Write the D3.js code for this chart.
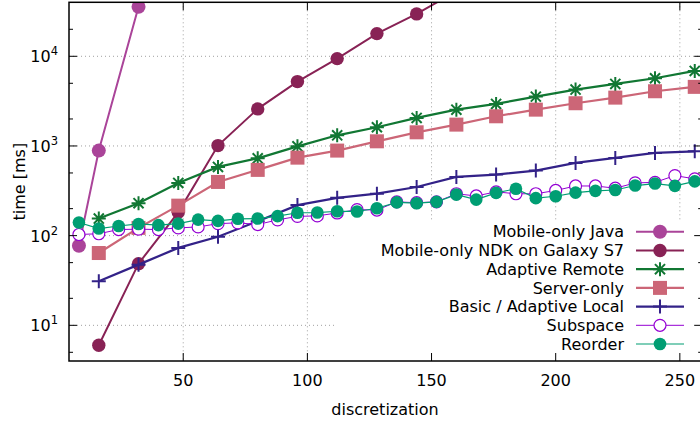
<!DOCTYPE html>
<html>
<head>
<meta charset="utf-8">
<script src="https://cdn.jsdelivr.net/npm/d3@7/dist/d3.min.js"></script>
<style>
  body { margin: 0; background: #fff; }
  text { font-family: "DejaVu Sans", sans-serif; fill: #000; }
</style>
</head>
<body>
<div id="chart"></div>
<script>
// --- data ---
var seriesNames = [
  "Mobile-only Java",
  "Mobile-only NDK on Galaxy S7",
  "Adaptive Remote",
  "Server-only",
  "Basic / Adaptive Local",
  "Subspace",
  "Reorder"
];

var javaX = [8, 16, 32];
var javaY = [77, 888, 35600];

var ndkX = [16, 32, 48, 64, 80, 96, 112, 128, 144, 160];
var ndkY = [6, 48.7, 182, 1010, 2590, 5220, 9420, 17900, 29700, 53000];

var step16X = [16, 32, 48, 64, 80, 96, 112, 128, 144, 160, 176, 192, 208, 224, 240, 256];
var remoteY = [155, 230, 387, 584, 728, 990, 1315, 1616, 2055, 2541, 2945, 3550, 4255, 4920, 5690, 6870];
var serverY = [64, 122, 216, 397, 541, 741, 888, 1127, 1420, 1730, 2143, 2541, 2995, 3460, 4075, 4560];
var basicY = [31, 47.5, 73, 97, 145, 219, 264, 294, 349, 452, 480, 531, 647, 736, 837, 871];

var step8X = [8, 16, 24, 32, 40, 48, 56, 64, 72, 80, 88, 96, 104, 112, 120, 128,
  136, 144, 152, 160, 168, 176, 184, 192, 200, 208, 216, 224, 232, 240, 248, 256];
var subspaceY = [103, 105, 117, 118, 117, 122, 125, 136, 139, 133, 150, 164, 166, 179, 195, 193,
  238, 233, 238, 293, 277, 308, 293, 293, 319, 358, 358, 338, 387, 393, 467, 430];
var reorderY = [140, 120, 128, 135, 131, 136, 151, 146, 154, 155, 165, 180, 181, 187, 186, 202,
  235, 230, 238, 287, 252, 300, 333, 262, 275, 302, 316, 323, 362, 381, 359, 403];

var xTicks = [50, 100, 150, 200, 250];
var yTicks = [10, 100, 1000, 10000];
var yMinor = [5, 20, 50, 200, 500, 2000, 5000, 20000];

// --- layout ---
var W = 700, H = 423;
var margin = { top: 2.3, right: -2.2, bottom: 62, left: 69 };
var width = W - margin.left - margin.right,
  height = H - margin.top - margin.bottom;

var x = d3.scaleLinear().domain([4, 259]).range([0, width]);
var y = d3.scaleLog().domain([4, 40000]).range([height, 0]);

function zip(xa, ya) {
  return xa.map(function (d, i) { return { x: d, y: ya[i] }; });
}

var series = [
  { name: seriesNames[0], data: zip(javaX, javaY), color: "#aa4499", lw: 2, marker: "dot", r: 7 },
  { name: seriesNames[1], data: zip(ndkX, ndkY), color: "#882255", lw: 2, marker: "dot", r: 6.7 },
  { name: seriesNames[2], data: zip(step16X, remoteY), color: "#117733", lw: 2.2, marker: "star", r: 7 },
  { name: seriesNames[3], data: zip(step16X, serverY), color: "#cc6677", lw: 2.2, marker: "square", r: 7 },
  { name: seriesNames[4], data: zip(step16X, basicY), color: "#332288", lw: 2.2, marker: "plus", r: 7 },
  { name: seriesNames[5], data: zip(step8X, subspaceY), color: "#9400d3", lw: 1, marker: "ring", r: 6 },
  { name: seriesNames[6], data: zip(step8X, reorderY), color: "#009e73", lw: 1.2, marker: "dot", r: 6.3 }
];

var svg = d3.select("#chart").append("svg")
  .attr("width", W).attr("height", H)
  .append("g")
  .attr("transform", "translate(" + margin.left + "," + margin.top + ")");

svg.append("clipPath").attr("id", "clip")
  .append("rect").attr("width", width).attr("height", height);

// grid
var grid = svg.append("g").attr("class", "grid");
grid.selectAll("line.gx").data(xTicks).enter().append("line")
  .attr("x1", function (d) { return x(d); }).attr("x2", function (d) { return x(d); })
  .attr("y1", 0).attr("y2", height);
grid.selectAll("line.gy").data(yTicks).enter().append("line")
  .attr("y1", function (d) { return y(d); }).attr("y2", function (d) { return y(d); })
  .attr("x1", 0).attr("x2", width);
grid.selectAll("line")
  .attr("stroke", "#a0a0a0").attr("stroke-width", 1).attr("stroke-dasharray", "1,3");

// marker drawing
function drawMarker(g, s) {
  var r = s.r;
  if (s.marker === "dot") {
    g.append("circle").attr("r", r).attr("fill", s.color);
  } else if (s.marker === "ring") {
    g.append("circle").attr("r", r).attr("fill", "#fff").attr("stroke", s.color).attr("stroke-width", 1.2);
  } else if (s.marker === "square") {
    g.append("rect").attr("x", -r).attr("y", -r).attr("width", 2 * r).attr("height", 2 * r).attr("fill", s.color);
  } else if (s.marker === "plus") {
    g.append("path").attr("d", "M" + -r + ",0H" + r + "M0," + -r + "V" + r)
      .attr("stroke", s.color).attr("stroke-width", 2);
  } else if (s.marker === "star") {
    var a = r * 0.72;
    g.append("path")
      .attr("d", "M" + -r + ",0H" + r + "M0," + -r + "V" + r +
        "M" + -a + "," + -a + "L" + a + "," + a + "M" + -a + "," + a + "L" + a + "," + -a)
      .attr("stroke", s.color).attr("stroke-width", 2);
  }
}

var line = d3.line()
  .x(function (d) { return x(d.x); })
  .y(function (d) { return y(d.y); });

var plot = svg.append("g").attr("clip-path", "url(#clip)");

series.forEach(function (s) {
  var group = plot.append("g").attr("class", "group");
  group.append("path")
    .attr("d", line(s.data))
    .attr("fill", "none")
    .attr("stroke", s.color)
    .attr("stroke-width", s.lw);
  group.selectAll("g.pt").data(s.data).enter().append("g")
    .attr("class", "pt")
    .attr("transform", function (d) { return "translate(" + x(d.x) + "," + y(d.y) + ")"; })
    .each(function () { drawMarker(d3.select(this), s); });
});

// legend (opaque key box)
var legX = 335 - margin.left, legTop = 221 - margin.top;
svg.append("rect")
  .attr("x", legX).attr("y", legTop)
  .attr("width", width - legX).attr("height", height - legTop)
  .attr("fill", "#fff");

var legend = svg.selectAll("g.legend").data(series).enter().append("g")
  .attr("class", "legend")
  .attr("transform", function (d, i) {
    return "translate(0," + (231.8 - margin.top + i * 18.7) + ")";
  });
legend.append("text")
  .attr("x", 624 - margin.left).attr("dy", "0.35em")
  .attr("text-anchor", "end").style("font-size", "16px")
  .text(function (d) { return d.name; });
legend.append("line")
  .attr("x1", 636 - margin.left).attr("x2", 684 - margin.left)
  .attr("stroke", function (d) { return d.color; })
  .attr("stroke-width", function (d) { return d.lw; });
legend.append("g")
  .attr("transform", "translate(" + (660 - margin.left) + ",0)")
  .each(function (d) { drawMarker(d3.select(this), d); });

// border and ticks
var axes = svg.append("g").attr("class", "axes");
axes.append("rect").attr("width", width).attr("height", height)
  .attr("fill", "none").attr("stroke", "#000").attr("stroke-width", 1.5);

xTicks.forEach(function (t) {
  axes.append("line").attr("x1", x(t)).attr("x2", x(t)).attr("y1", height).attr("y2", height - 8);
  axes.append("line").attr("x1", x(t)).attr("x2", x(t)).attr("y1", 0).attr("y2", 8);
});
yTicks.forEach(function (t) {
  axes.append("line").attr("y1", y(t)).attr("y2", y(t)).attr("x1", 0).attr("x2", 8);
  axes.append("line").attr("y1", y(t)).attr("y2", y(t)).attr("x1", width).attr("x2", width - 8);
});
yMinor.forEach(function (t) {
  axes.append("line").attr("y1", y(t)).attr("y2", y(t)).attr("x1", 0).attr("x2", 4);
  axes.append("line").attr("y1", y(t)).attr("y2", y(t)).attr("x1", width).attr("x2", width - 4);
});
axes.selectAll("line").attr("stroke", "#000").attr("stroke-width", 1);

// tick labels
axes.selectAll("text.xl").data(xTicks).enter().append("text")
  .attr("x", function (d) { return x(d); })
  .attr("y", height + 25)
  .attr("text-anchor", "middle").style("font-size", "16px")
  .text(function (d) { return d; });

var yl = axes.selectAll("text.yl").data(yTicks).enter().append("text")
  .attr("x", -11)
  .attr("y", function (d) { return y(d) + 6; })
  .attr("text-anchor", "end").style("font-size", "16px");
yl.append("tspan").text("10");
yl.append("tspan").attr("dy", -7).style("font-size", "11.5px")
  .text(function (d) { return Math.round(Math.log10(d)); });

// axis titles
svg.append("text")
  .attr("transform", "translate(" + (25 - margin.left) + "," + (height / 2) + ") rotate(-90)")
  .attr("text-anchor", "middle").style("font-size", "16px")
  .text("time [ms]");
svg.append("text")
  .attr("x", 385 - margin.left).attr("y", 415 - margin.top)
  .attr("text-anchor", "middle").style("font-size", "16px")
  .text("discretization");
</script>
</body>
</html>
